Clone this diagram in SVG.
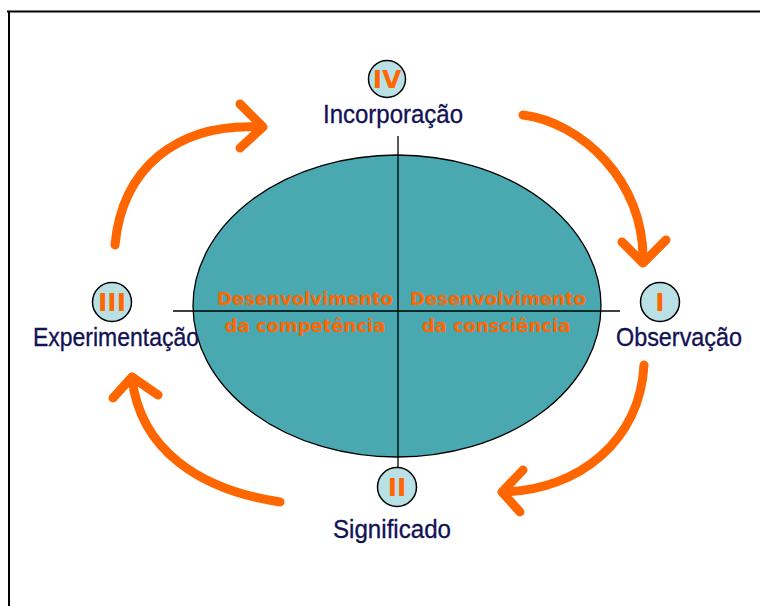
<svg xmlns="http://www.w3.org/2000/svg" width="760" height="606" viewBox="0 0 760 606">
<style>
.lbl{font-family:"Liberation Sans",Arial,sans-serif;font-size:26.5px;fill:#121256;stroke:#121256;stroke-width:0.35;text-anchor:middle}
.num{font-family:"DejaVu Sans",Verdana,sans-serif;font-weight:bold;font-size:25px;fill:#FF6600;text-anchor:middle}
.inner{font-family:"DejaVu Sans",Verdana,sans-serif;font-weight:bold;font-size:18px;fill:#FF6600;text-anchor:middle}
.badge{fill:#B9E1E5;stroke:#000;stroke-width:1.5}
.arr{fill:none;stroke:#FF6600;stroke-width:9;stroke-linecap:round;stroke-linejoin:round}
.axis{stroke:#000;stroke-width:1.3;fill:none}
</style>
<rect width="760" height="606" fill="#fff"/>
<path d="M7,11.5 H760 M9,11.5 V606" stroke="#000" stroke-width="2" fill="none"/>
<g id="centre">
<ellipse cx="397" cy="306" rx="204" ry="151" fill="#49A8B0" stroke="#000" stroke-width="1.3"/>
<line class="axis" x1="398" y1="136" x2="398" y2="468"/>
<line class="axis" x1="173" y1="311" x2="620" y2="311"/>
<text class="inner" x="305" y="305">Desenvolvimento</text>
<text class="inner" x="305" y="332">da competência</text>
<text class="inner" x="498" y="305">Desenvolvimento</text>
<text class="inner" x="496" y="332">da consciência</text>
</g>
<g id="connectors">
<path class="arr" d="M115,245 C122,170 175,122 262,127"/>
<path class="arr" d="M240,104 L263,127 L240,148"/>
<path class="arr" d="M523,115 C580,122 645,180 643,262"/>
<path class="arr" d="M622,242 L643,263 L666,240"/>
<path class="arr" d="M644,365 C640,440 580,490 503,492"/>
<path class="arr" d="M523,470 L502,492 L520,512"/>
<path class="arr" d="M280,502 C200,490 140,450 132,378"/>
<path class="arr" d="M113,398 L132,377 L158,395"/>
</g>
<g id="node-IV">
<circle class="badge" cx="387" cy="79" r="18.5"/>
<text class="num" x="387" y="88">IV</text>
<text class="lbl" x="393" y="123" textLength="140" lengthAdjust="spacingAndGlyphs">Incorporação</text>
</g>
<g id="node-I">
<circle class="badge" cx="660" cy="302" r="19.5"/>
<text class="num" x="660" y="311">I</text>
<text class="lbl" x="679" y="346" textLength="126" lengthAdjust="spacingAndGlyphs">Observação</text>
</g>
<g id="node-II">
<circle class="badge" cx="397" cy="487" r="19.5"/>
<text class="num" x="397" y="496">II</text>
<text class="lbl" x="392" y="538" textLength="118" lengthAdjust="spacingAndGlyphs">Significado</text>
</g>
<g id="node-III">
<circle class="badge" cx="112" cy="302" r="19.5"/>
<text class="num" x="112" y="311">III</text>
<text class="lbl" x="116" y="346" textLength="166" lengthAdjust="spacingAndGlyphs">Experimentação</text>
</g>
</svg>
